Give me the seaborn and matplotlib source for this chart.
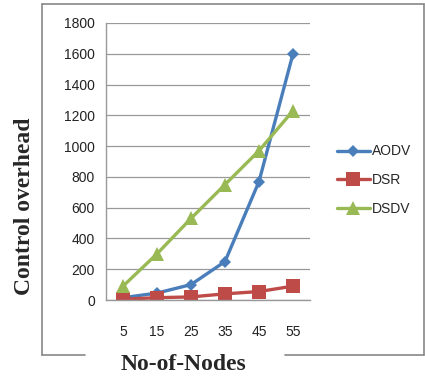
import matplotlib
matplotlib.use("Agg")
import matplotlib.pyplot as plt
from matplotlib.lines import Line2D
import seaborn as sns
import pandas as pd
import numpy as np

nodes = ["5", "15", "25", "35", "45", "55"]
aodv = [15, 45, 100, 250, 770, 1600]
dsr = [5, 15, 20, 40, 55, 90]
dsdv = [90, 300, 530, 750, 970, 1230]
series_names = ["AODV", "DSR", "DSDV"]
yticks = [0, 200, 400, 600, 800, 1000, 1200, 1400, 1600, 1800]

rows = []
for name, vals in zip(series_names, [aodv, dsr, dsdv]):
    for i, (n, v) in enumerate(zip(nodes, vals)):
        rows.append({"pos": i, "Nodes": n, "value": v, "series": name})
df = pd.DataFrame(rows)

sns.set_theme(style="white")
plt.rcParams['font.family'] = ['Liberation Sans', 'DejaVu Sans']

fig = plt.figure(figsize=(4.25, 3.8), dpi=100)
ax = fig.add_axes([106/425, 1-300/380, (310-106)/425, (300-23)/380])

palette = {"AODV": "#4A7EBB", "DSR": "#BE4B48", "DSDV": "#98B954"}
markers = {"AODV": "D", "DSR": "s", "DSDV": "^"}
msize = {"AODV": 6.5, "DSR": 10, "DSDV": 10}

sns.lineplot(data=df, x="pos", y="value", hue="series", style="series",
             markers=markers, dashes=False, palette=palette, linewidth=2.4,
             markersize=9, markeredgewidth=0, ax=ax, legend=False)
for line, name in zip(ax.lines, series_names):
    line.set_markersize(msize[name])

ax.set_xlim(-0.5, 5.5)
ax.set_ylim(0, 1800)
ax.set_yticks(yticks)
ax.set_yticklabels([str(t) for t in yticks], fontsize=10, color="#222222")
ax.set_xticks(range(len(nodes)))
ax.set_xticklabels(nodes, fontsize=10, color="#222222")
ax.set_xticks(np.arange(-0.5, 6.0, 1.0), minor=True)
ax.tick_params(axis="x", which="major", length=0, pad=18)
ax.tick_params(axis="x", which="minor", length=5, color="#999999", width=1, direction="out")
ax.tick_params(axis="y", which="major", length=5, color="#999999", width=1, direction="out", pad=3)
ax.yaxis.grid(True, color="#999999", linewidth=0.9)
ax.xaxis.grid(False)
for s in ["top", "right"]:
    ax.spines[s].set_visible(False)
for s in ["left", "bottom"]:
    ax.spines[s].set_color("#999999")
    ax.spines[s].set_linewidth(1)
ax.set_xlabel("")
ax.set_ylabel("")

# Legend
handles = [Line2D([0], [0], color=palette[n], marker=markers[n], lw=2.4,
                  markersize=msize[n], markeredgewidth=0)
           for n in series_names]
leg = fig.legend(handles, series_names, loc="center left", bbox_to_anchor=(331/425, 1-180/380),
                 frameon=False, fontsize=10, handlelength=2.4, labelspacing=1.05,
                 handletextpad=0.15, borderaxespad=0)

# Axis titles
fig.text(25/425, 1-206/380, "Control overhead", rotation=90, ha="center", va="center",
         fontsize=17, fontweight="bold", family=["Liberation Serif", "DejaVu Serif"])
fig.text(183/425, 1-364/380, "No-of-Nodes", ha="center", va="center",
         fontsize=17, fontweight="bold", family=["Liberation Serif", "DejaVu Serif"])

# Outer frame
fc = "#888888"
L, R, T, B = 42/425, 424/425, 1-4/380, 1-355/380
for xs, ys in [([L, R], [T, T]), ([L, L], [T, B]), ([R, R], [T, B]),
               ([L, 85/425], [B, B]), ([285/425, R], [B, B])]:
    fig.add_artist(Line2D(xs, ys, color=fc, lw=1.2, transform=fig.transFigure))

fig.savefig("out.png", dpi=100, facecolor="white")
